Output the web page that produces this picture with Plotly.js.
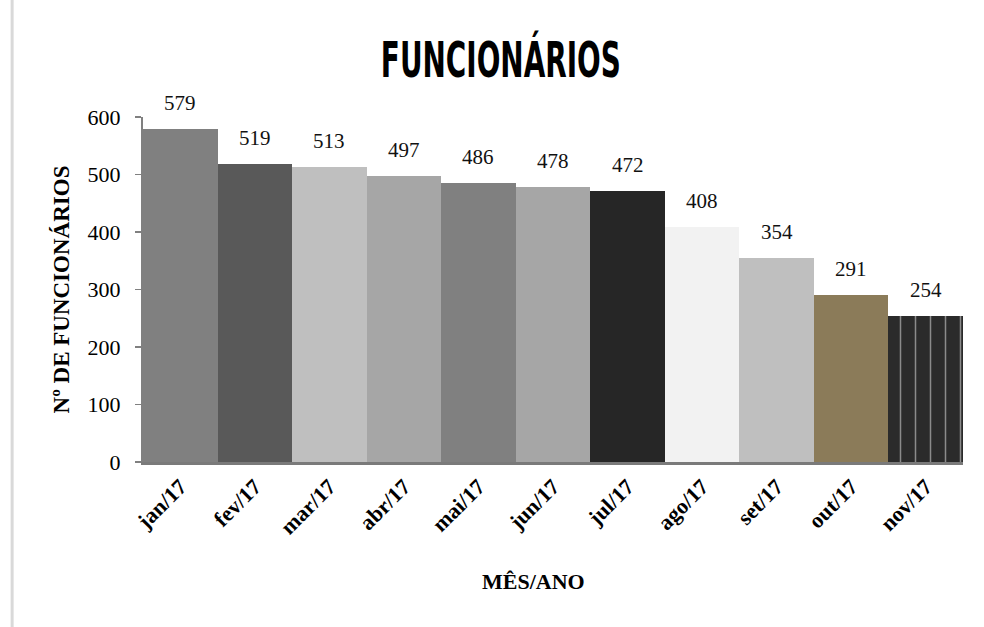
<!DOCTYPE html>
<html>
<head>
<meta charset="utf-8">
<script src="https://cdn.plot.ly/plotly-3.0.1.min.js"></script>
<style>
html,body{margin:0;padding:0;background:#fff;}
#chart{width:984px;height:627px;}
#chart .gtitle{transform-box:fill-box;transform-origin:center;transform:scaleX(0.62);}
</style>
</head>
<body>
<div id="chart"></div>
<script>
const months = ['jan/17','fev/17','mar/17','abr/17','mai/17','jun/17','jul/17','ago/17','set/17','out/17','nov/17'];
const employees = [579, 519, 513, 497, 486, 478, 472, 408, 354, 291, 254];
const barColors = ['#808080','#595959','#bfbfbf','#a6a6a6','#808080','#a6a6a6','#262626','#f2f2f2','#bfbfbf','#8b7b59','#2b2b2b'];
const barPatterns = ['','','','','','','','','','','|'];

const serif = '"Liberation Serif", "DejaVu Serif", serif';

const labelAnnotations = months.map((m, i) => ({
  x: m, y: employees[i], xref: 'x', yref: 'y',
  text: String(employees[i]), showarrow: false,
  xanchor: 'center', yanchor: 'bottom', yshift: 12,
  font: {family: serif, size: 21, color: '#111'}
}));

Plotly.newPlot('chart', [{
  type: 'bar',
  x: months,
  y: employees,
  marker: {
    color: barColors,
    line: {width: 0},
    pattern: {shape: barPatterns, fgcolor: '#6a6a6a', fgopacity: 0.45, size: 15, solidity: 0.1, fillmode: 'overlay'}
  },
  hoverinfo: 'none'
}], {
  width: 984, height: 627,
  margin: {l: 143, r: 21, t: 117, b: 165},
  bargap: 0,
  paper_bgcolor: '#fff', plot_bgcolor: '#fff',
  showlegend: false,
  title: {text: '<b>FUNCIONÁRIOS</b>', x: 0.509, xanchor: 'center', y: 0.905, yanchor: 'middle',
          font: {family: '"DejaVu Sans Condensed", "DejaVu Sans", sans-serif', size: 50, color: '#000'}},
  xaxis: {
    type: 'category',
    tickangle: -45,
    tickfont: {family: serif, size: 22, color: '#000', weight: 'bold'},
    showline: true, linecolor: '#7a7a7a', linewidth: 3,
    ticks: '', showgrid: false, zeroline: false
  },
  yaxis: {
    range: [0, 600],
    dtick: 100,
    tickfont: {family: serif, size: 22, color: '#000'},
    ticklabelstandoff: 10,
    showline: true, linecolor: '#808080', linewidth: 2,
    ticks: 'outside', ticklen: 6, tickcolor: '#808080', tickwidth: 1.5,
    showgrid: false, zeroline: false,
    title: {text: '<b>Nº DE FUNCIONÁRIOS</b>', standoff: 12, font: {family: serif, size: 23, color: '#000'}}
  },
  annotations: labelAnnotations.concat([{
    text: '<b>MÊS/ANO</b>', xref: 'paper', yref: 'paper', x: 0.476, y: -0.345,
    xanchor: 'center', yanchor: 'middle', showarrow: false,
    font: {family: serif, size: 22, color: '#000'}
  }]),
  shapes: [{
    type: 'line', xref: 'paper', yref: 'paper',
    x0: -0.1596, x1: -0.1596, y0: 1.34, y1: -0.5,
    line: {color: '#d9d9d9', width: 3}
  }]
}, {displayModeBar: false, staticPlot: true});
</script>
</body>
</html>
